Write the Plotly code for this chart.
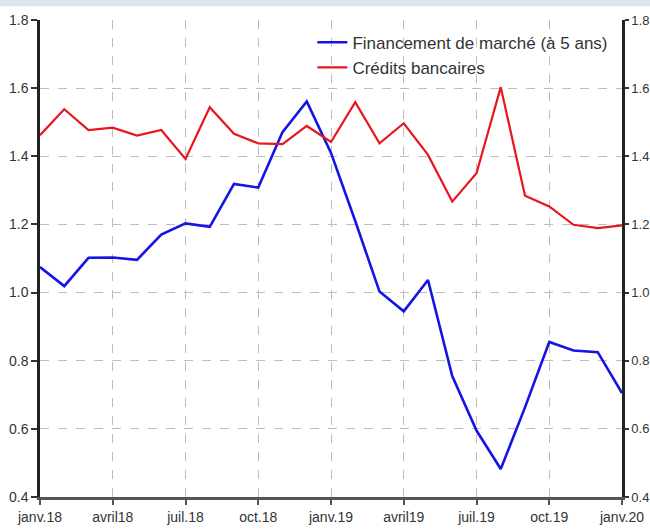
import plotly.graph_objects as go

months = ["janv.18", "févr.18", "mars18", "avril18", "mai18", "juin18", "juil.18", "août18",
          "sept.18", "oct.18", "nov.18", "déc.18", "janv.19", "févr.19", "mars19", "avril19",
          "mai19", "juin19", "juil.19", "août19", "sept.19", "oct.19", "nov.19", "déc.19", "janv.20"]
tick_labels = ["janv.18", "avril18", "juil.18", "oct.18", "janv.19", "avril19", "juil.19", "oct.19", "janv.20"]

financement_marche = [1.075, 1.019, 1.102, 1.103, 1.096, 1.170, 1.203, 1.193, 1.319, 1.308,
                      1.471, 1.561, 1.41, 1.21, 1.003, 0.945, 1.037, 0.755, 0.595, 0.482,
                      0.663, 0.855, 0.830, 0.825, 0.705]
credits_bancaires = [1.462, 1.538, 1.477, 1.484, 1.461, 1.477, 1.392, 1.544, 1.466, 1.438,
                     1.436, 1.489, 1.442, 1.559, 1.438, 1.497, 1.404, 1.267, 1.350, 1.603,
                     1.284, 1.253, 1.199, 1.189, 1.197]

y_ticks = [0.4, 0.6, 0.8, 1.0, 1.2, 1.4, 1.6, 1.8]

x = list(range(len(months)))
tickvals = [months.index(t) for t in tick_labels]

fig = go.Figure()
fig.add_trace(go.Scatter(x=x, y=financement_marche, mode="lines",
                         name="Financement de marché (à 5 ans)",
                         line=dict(color="#1414e6", width=2.6), yaxis="y"))
fig.add_trace(go.Scatter(x=x, y=credits_bancaires, mode="lines",
                         name="Crédits bancaires",
                         line=dict(color="#e8161e", width=2.2), yaxis="y2"))

axis_font = dict(family="Liberation Sans, Arial, sans-serif", size=14, color="#333333")
right_font = dict(family="Liberation Sans, Arial, sans-serif", size=13, color="#333333")

fig.update_layout(
    width=650, height=531,
    margin=dict(l=40, r=28, t=20, b=34),
    paper_bgcolor="white", plot_bgcolor="white",
    showlegend=True,
    legend=dict(x=0.468, y=0.99, xanchor="left", yanchor="top",
                bgcolor="rgba(0,0,0,0)", borderwidth=0,
                font=dict(family="Liberation Sans, Arial, sans-serif", size=17, color="#333333"),
                tracegroupgap=0, itemwidth=30),
    xaxis=dict(range=[0, 24], tickvals=tickvals, ticktext=tick_labels,
               showgrid=True, gridcolor="#bdbdbd", griddash="dash", gridwidth=1,
               ticks="outside", ticklen=5, tickcolor="#555555", tickwidth=1.5,
               showline=True, linecolor="#555555", linewidth=2.5,
               tickfont=axis_font, zeroline=False, automargin=False),
    yaxis=dict(range=[0.4, 1.8], tickvals=y_ticks, tickformat=".1f",
               showgrid=True, gridcolor="#bdbdbd", griddash="dash", gridwidth=1,
               ticks="outside", ticklen=6, tickcolor="#333333", tickwidth=1.5,
               showline=True, linecolor="#222222", linewidth=2.5,
               tickfont=axis_font, zeroline=False, automargin=False),
    yaxis2=dict(range=[0.4, 1.8], tickvals=y_ticks, tickformat=".1f",
                overlaying="y", side="right", showgrid=False,
                ticks="outside", ticklen=4, tickcolor="#333333", tickwidth=1.5,
                showline=True, linecolor="#222222", linewidth=2.5,
                tickfont=right_font, zeroline=False, automargin=False),
    shapes=[dict(type="rect", xref="paper", yref="paper", x0=-0.1, x1=1.1,
                 y0=1.029, y1=1.06, fillcolor="#dce6f1", line=dict(width=0), layer="above")],
)

fig.write_html("out.html", config={"displayModeBar": False},
               post_script="document.body.style.margin='0';document.body.style.overflow='hidden';")
